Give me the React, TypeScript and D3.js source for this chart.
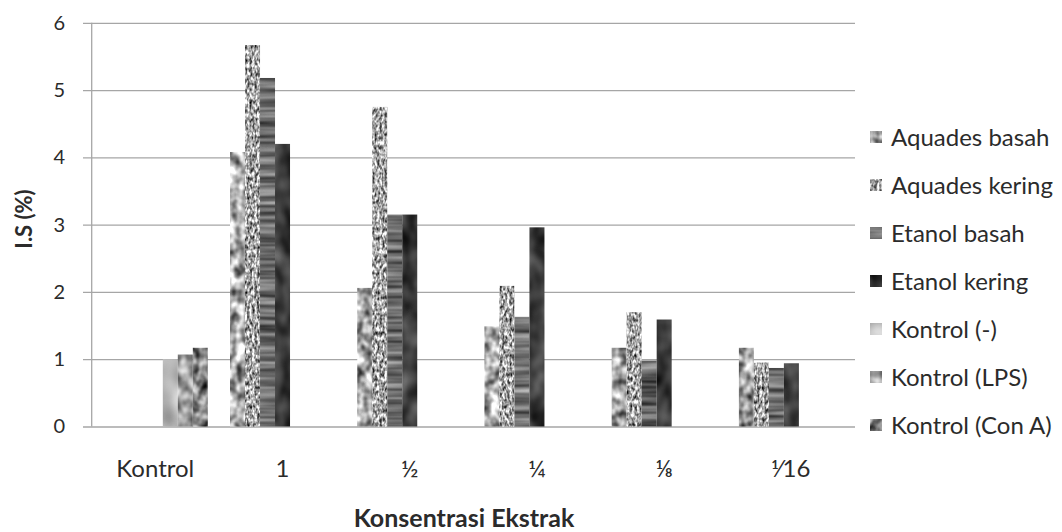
import React, { useEffect, useRef } from "react";
import * as d3 from "d3";

// Kategori konsentrasi ekstrak
const categories = ["Kontrol", "1", "½", "¼", "⅛", "⅟16"];

const seriesNames = [
  "Aquades basah",
  "Aquades kering",
  "Etanol basah",
  "Etanol kering",
  "Kontrol (-)",
  "Kontrol (LPS)",
  "Kontrol (Con A)",
];

// nilai I.S (%) per seri, null = tidak ada batang
const aquadesBasah = [null, 4.08, 2.06, 1.49, 1.17, 1.17];
const aquadesKering = [null, 5.67, 4.75, 2.09, 1.7, 0.95];
const etanolBasah = [null, 5.18, 3.15, 1.63, 0.98, 0.87];
const etanolKering = [null, 4.2, 3.15, 2.96, 1.59, 0.94];
const kontrolNeg = [1.0, null, null, null, null, null];
const kontrolLps = [1.07, null, null, null, null, null];
const kontrolConA = [1.17, null, null, null, null, null];

const yTicks = [0, 1, 2, 3, 4, 5, 6];

// texture settings (turbulence frequency, mean gray, contrast)
const textures = [
  { freq: "0.11 0.09", mean: 0.66, amp: 1.5 },
  { freq: "0.4 0.22", mean: 0.64, amp: 1.7 },
  { freq: "0.01 0.18", mean: 0.42, amp: 0.8 },
  { freq: "0.06 0.04", mean: 0.23, amp: 0.55 },
  { freq: "0.035 0.025", mean: 0.74, amp: 0.7 },
  { freq: "0.1 0.08", mean: 0.6, amp: 0.9 },
  { freq: "0.12 0.1", mean: 0.52, amp: 1.2 },
];

const App: React.FC = () => {
  const svgRef = useRef<SVGSVGElement>(null);

  useEffect(() => {
    if (!svgRef.current) return;
    const W = 1062, H = 532;
    const left = 91.7, right = 855, top = 22.8, bottom = 426.5;
    const font = "Lato, 'Open Sans', sans-serif";
    const ink = "#2b2b2b";

    const svg = d3.select(svgRef.current);
    svg.selectAll("*").remove();
    svg.attr("width", W).attr("height", H);

    const values = [aquadesBasah, aquadesKering, etanolBasah, etanolKering, kontrolNeg, kontrolLps, kontrolConA];

    // texture filters
    const defs = svg.append("defs");
    textures.forEach((t, i) => {
      const f = defs.append("filter")
        .attr("id", `tex${i}`)
        .attr("color-interpolation-filters", "sRGB")
        .attr("x", "-10%").attr("y", "-10%").attr("width", "120%").attr("height", "120%");
      f.append("feTurbulence")
        .attr("type", "fractalNoise")
        .attr("baseFrequency", t.freq)
        .attr("numOctaves", 2)
        .attr("seed", i + 3)
        .attr("result", "noise");
      const b = t.mean - t.amp * 0.5;
      const row = `${t.amp} 0 0 0 ${b}`;
      f.append("feColorMatrix")
        .attr("in", "noise")
        .attr("type", "matrix")
        .attr("values", `${row} ${row} ${row} 0 0 0 0 1`)
        .attr("result", "gray");
      f.append("feComposite")
        .attr("in", "gray")
        .attr("in2", "SourceGraphic")
        .attr("operator", "in");
    });

    const x0 = d3.scaleBand().domain(categories).range([left, right]);
    const x1 = d3.scaleBand().domain(seriesNames).range([0, x0.bandwidth()]).paddingOuter(0.74);
    const y = d3.scaleLinear().domain([0, 6]).range([bottom, top]);

    // grid + y ticks
    const yAxis = svg.append("g")
      .attr("transform", `translate(${right},0)`)
      .call(d3.axisLeft(y).tickValues(yTicks).tickSize(right - left + 8.7).tickFormat(d => `${d}`).tickPadding(18));
    yAxis.select(".domain").remove();
    yAxis.selectAll(".tick line").attr("stroke", "#a6a6a6").attr("stroke-width", 1.3);
    yAxis.selectAll(".tick text")
      .attr("fill", ink)
      .attr("font-family", font)
      .attr("font-size", 20);

    // left axis line
    svg.append("line")
      .attr("x1", left).attr("x2", left)
      .attr("y1", top).attr("y2", bottom)
      .attr("stroke", "#a6a6a6").attr("stroke-width", 1.3);

    // bars
    seriesNames.forEach((name, si) => {
      const rows = categories
        .map((c, ci) => ({ c, v: values[si][ci] }))
        .filter(d => d.v !== null) as { c: string; v: number }[];
      svg.append("g")
        .selectAll("rect")
        .data(rows)
        .join("rect")
        .attr("x", d => x0(d.c)! + x1(name)!)
        .attr("y", d => y(d.v))
        .attr("width", x1.bandwidth())
        .attr("height", d => y(0) - y(d.v))
        .attr("fill", "#888")
        .attr("filter", `url(#tex${si})`);
    });

    // x tick labels
    svg.append("g")
      .selectAll("text")
      .data(categories)
      .join("text")
      .attr("x", d => x0(d)! + x0.bandwidth() / 2)
      .attr("y", 477)
      .attr("text-anchor", "middle")
      .attr("fill", ink)
      .attr("font-family", font)
      .attr("font-size", 24)
      .text(d => d);

    // axis titles
    svg.append("text")
      .attr("transform", "translate(32,219) rotate(-90)")
      .attr("text-anchor", "middle")
      .attr("fill", ink)
      .attr("font-family", font)
      .attr("font-weight", "bold")
      .attr("font-size", 22)
      .text("I.S (%)");

    svg.append("text")
      .attr("x", 464)
      .attr("y", 527)
      .attr("text-anchor", "middle")
      .attr("fill", ink)
      .attr("font-family", font)
      .attr("font-weight", "bold")
      .attr("font-size", 25)
      .text("Konsentrasi Ekstrak");

    // legend
    const ly = d3.scalePoint().domain(seriesNames).range([137, 425]);
    const lg = svg.append("g")
      .selectAll("g")
      .data(seriesNames)
      .join("g")
      .attr("transform", d => `translate(870,${ly(d)})`);
    lg.append("rect")
      .attr("x", 0).attr("y", -6)
      .attr("width", 12).attr("height", 12)
      .attr("fill", "#888")
      .attr("filter", (_d, i) => `url(#tex${i})`);
    lg.append("text")
      .attr("x", 21)
      .attr("dy", "0.36em")
      .attr("fill", ink)
      .attr("font-family", font)
      .attr("font-size", 24)
      .text(d => d);
  }, []);

  return (
    <div style={{ position: "absolute", left: 0, top: 0, background: "#fff" }}>
      <svg ref={svgRef} style={{ display: "block" }} />
    </div>
  );
};

export default App;
